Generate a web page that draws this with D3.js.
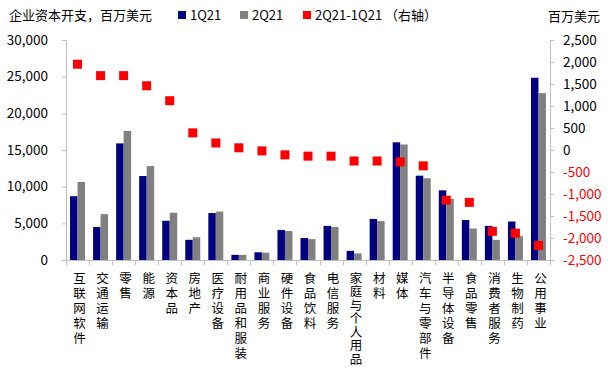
<!DOCTYPE html>
<html>
<head>
<meta charset="utf-8">
<script src="https://cdn.jsdelivr.net/npm/d3@7"></script>
<style>
body { margin: 0; background: #fff; }
text { font-family: "Noto Sans CJK SC", "Noto Sans", sans-serif; }
.axis path, .axis line { stroke: #bfbfbf; }
.vlab { writing-mode: vertical-rl; }
</style>
</head>
<body>
<svg width="608" height="369"></svg>
<script>
// data
var categories = ["互联网软件", "交通运输", "零售", "能源", "资本品", "房地产", "医疗设备",
    "耐用品和服装", "商业服务", "硬件设备", "食品饮料", "电信服务", "家庭与个人用品", "材料",
    "媒体", "汽车与零部件", "半导体设备", "食品零售", "消费者服务", "生物制药", "公用事业"];
var q1 = [8700, 4500, 15900, 11450, 5350, 2750, 6400, 700, 1050, 4100, 3000, 4650, 1250, 5600,
    16050, 11500, 9500, 5450, 4650, 5250, 24850];
var q2 = [10650, 6250, 17600, 12800, 6450, 3100, 6600, 700, 1000, 3950, 2850, 4500, 900, 5300,
    15750, 11150, 8350, 4300, 2750, 3250, 22750];
var diff = [1950, 1690, 1690, 1460, 1120, 390, 160, 50, -20, -110, -140, -140, -250, -250,
    -270, -360, -1140, -1190, -1850, -1890, -2170];
var leftTicks = [0, 5000, 10000, 15000, 20000, 25000, 30000];
var rightTicks = [-2500, -2000, -1500, -1000, -500, 0, 500, 1000, 1500, 2000, 2500];
var seriesNames = ["1Q21", "2Q21"];
var colors = {"1Q21": "#000080", "2Q21": "#808080", diff: "#ff0000"};

var svg = d3.select("svg");
var m = {left: 66, right: 550, top: 40, bottom: 260};

var x = d3.scaleBand().domain(categories).range([m.left, m.right])
    .paddingInner(0.35).paddingOuter(0.175);
var xs = d3.scaleBand().domain(seriesNames).range([0, x.bandwidth()]);
var y = d3.scaleLinear().domain([0, 30000]).range([m.bottom, m.top]);
var y2 = d3.scaleLinear().domain([-2500, 2500]).range([m.bottom, m.top]);

var fmt = function(d) { return d3.format(",")(d).replace("\u2212", "-"); };

// left axis
var ga = svg.append("g").attr("class", "axis")
    .attr("transform", "translate(" + m.left + ",0)")
    .call(d3.axisLeft(y).tickValues(leftTicks).tickSize(4).tickPadding(14).tickFormat(fmt));
ga.selectAll("text").attr("font-size", 13.5).attr("fill", "#000");

// right axis
var gr = svg.append("g").attr("class", "axis")
    .attr("transform", "translate(" + m.right + ",0)")
    .call(d3.axisRight(y2).tickValues(rightTicks).tickSize(4).tickPadding(9).tickFormat(fmt));
gr.selectAll("text").attr("font-size", 13.5)
    .attr("fill", function(d) { return d < 0 ? "#ff0000" : "#000"; });

// bars
var rows = categories.map(function(c, i) { return {cat: c, vals: [q1[i], q2[i]]}; });
var grp = svg.selectAll(".cat").data(rows).enter().append("g")
    .attr("transform", function(d) { return "translate(" + x(d.cat) + ",0)"; });
grp.selectAll("rect").data(function(d) {
        return d.vals.map(function(v, j) { return {s: seriesNames[j], v: v}; });
    }).enter().append("rect")
    .attr("x", function(d) { return xs(d.s); })
    .attr("width", xs.bandwidth())
    .attr("y", function(d) { return y(d.v); })
    .attr("height", function(d) { return m.bottom - y(d.v); })
    .attr("fill", function(d) { return colors[d.s]; });

// bottom axis with ticks between categories
var gb = svg.append("g").attr("class", "axis");
gb.append("line").attr("x1", m.left).attr("x2", m.right)
    .attr("y1", m.bottom + 0.5).attr("y2", m.bottom + 0.5);
var bounds = categories.map(function(c) { return x(c) - x.step() * x.paddingInner() / 2; });
bounds.push(m.right);
gb.selectAll(".tk").data(bounds).enter().append("line")
    .attr("x1", function(d) { return Math.round(d) + 0.5; })
    .attr("x2", function(d) { return Math.round(d) + 0.5; })
    .attr("y1", m.bottom).attr("y2", m.bottom + 5);

// diff markers (right axis)
svg.selectAll(".mk").data(diff).enter().append("rect")
    .attr("x", function(d, i) { return x(categories[i]) + x.bandwidth() / 2 - 4.5; })
    .attr("y", function(d) { return y2(d) - 4.5; })
    .attr("width", 9).attr("height", 9)
    .attr("fill", colors.diff);

// vertical category labels, long ones squeezed to fit
var fs = 12.5;
svg.selectAll(".vlab").data(categories).enter().append("text")
    .attr("class", "vlab")
    .attr("font-size", fs).attr("fill", "#000")
    .attr("x", function(c) { return x(c) + x.bandwidth() / 2 + 2; })
    .attr("y", 272)
    .attr("letter-spacing", function(c) {
        return Math.min(15, 94 / Array.from(c).length) - fs;
    })
    .text(function(c) { return c; });

// title and legend
svg.append("text").attr("x", 9).attr("y", 20).attr("font-size", 13).text("企业资本开支，百万美元");
svg.append("text").attr("x", 548).attr("y", 21).attr("font-size", 13).text("百万美元");
var legend = [
    {name: "1Q21", color: colors["1Q21"], x: 178},
    {name: "2Q21", color: colors["2Q21"], x: 240},
    {name: "2Q21-1Q21 （右轴）", color: colors.diff, x: 303}
];
var lg = svg.selectAll(".lg").data(legend).enter().append("g");
lg.append("rect").attr("x", function(d) { return d.x; }).attr("y", 11)
    .attr("width", 8).attr("height", 8).attr("fill", function(d) { return d.color; });
lg.append("text").attr("x", function(d) { return d.x + 12; }).attr("y", 20)
    .attr("font-size", 13).text(function(d) { return d.name; });
</script>
</body>
</html>
